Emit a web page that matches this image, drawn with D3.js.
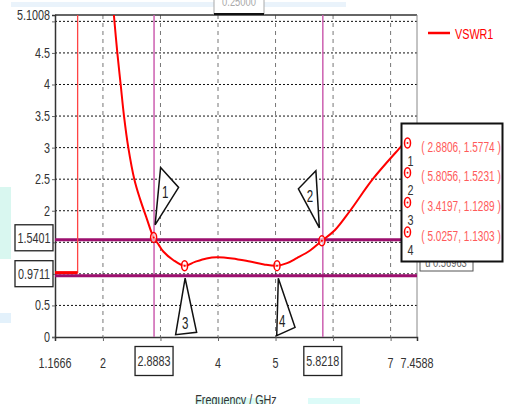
<!DOCTYPE html>
<html>
<head>
<meta charset="utf-8">
<script src="https://cdn.jsdelivr.net/npm/d3@7"></script>
<style>
  html, body { margin: 0; padding: 0; background: #fff; }
  svg { display: block; }
  text { font-family: "Liberation Sans", Arial, sans-serif; }
</style>
</head>
<body>
<div id="chart"></div>
<script>
// VSWR 曲线数据
const freqGHz = [2.19, 2.25, 2.308, 2.366, 2.441, 2.545, 2.64, 2.76, 2.8806, 2.97, 3.049, 3.22, 3.4197,
                 3.6, 3.8, 3.98, 4.25, 4.556, 4.8, 5.0257, 5.2, 5.37, 5.6, 5.8056, 6.034, 6.296, 6.689, 7.164, 7.4588];
const vswr = [5.1008, 4.5, 4.0, 3.5, 3.0, 2.5, 2.2, 1.88, 1.5774, 1.46, 1.354, 1.22, 1.1289,
              1.19, 1.245, 1.265, 1.245, 1.195, 1.15, 1.1303, 1.17, 1.25, 1.37, 1.5231, 1.695, 2.0, 2.5, 3.0, 3.3];

// 左侧的阶跃段
const stepFreq = [1.1666, 1.56, 1.56];
const stepVswr = [1.02, 1.02, 5.1008];

// 标记点
const markerNames = ["1", "2", "3", "4"];
const markerFreq = [2.8806, 5.8056, 3.4197, 5.0257];
const markerVswr = [1.5774, 1.5231, 1.1289, 1.1303];

// 刻度
const xTickLabels = ["1.1666", "2", "4", "5", "7", "7.4588"];
const xGridValues = [2, 3, 4, 5, 6, 7];
const yTickLabels = ["0", "0.5", "2", "2.5", "3", "3.5", "4", "4.5", "5.1008"];
const yGridValues = [0.5, 1, 1.5, 2, 2.5, 3, 3.5, 4, 4.5, 5];
const xCursor = [2.8883, 5.8218];
const yCursor = [1.5401, 0.9711];
const xDomain = [1.1666, 7.4588];
const yDomain = [0, 5.1008];

const width = 506, height = 404;
const red = "#ff0000";

let svg = d3.select("#chart").append("svg")
    .attr("width", width)
    .attr("height", height);

// 窄字体：用横向缩放模拟
let label = function (g, px, py, txt, size, fill, anchor) {
    return g.append("text")
        .attr("transform", "translate(" + px + "," + py + ") scale(0.72,1)")
        .attr("text-anchor", anchor || "middle")
        .attr("font-size", size)
        .attr("fill", fill)
        .text(txt);
};

// 截图边缘的浅色块
let tints = [
    [11, 2, 335, 5, "#eaf3fb"], [0, 187, 11, 72, "#d9f7f0"], [0, 313, 11, 10, "#e3f1fb"],
    [195, 398, 72, 6, "#dcfbf4"], [308, 398, 52, 6, "#dcfbf8"]
];
svg.selectAll(".tint").data(tints).enter().append("rect")
    .attr("x", d => d[0]).attr("y", d => d[1])
    .attr("width", d => d[2]).attr("height", d => d[3])
    .attr("fill", d => d[4]);

let x = d3.scaleLinear().domain(xDomain).range([55, 417]);
let y = d3.scaleLinear().domain(yDomain).range([337, 15]);

svg.append("clipPath").attr("id", "clip").append("rect")
    .attr("x", 55).attr("y", 15).attr("width", 362).attr("height", 322);

// 网格
svg.selectAll(".vgrid").data(xGridValues).enter().append("line")
    .attr("x1", d => x(d)).attr("x2", d => x(d))
    .attr("y1", y(yDomain[1])).attr("y2", y(0))
    .attr("stroke", "#777").attr("stroke-width", 1).attr("stroke-dasharray", "4,4");
svg.selectAll(".hgrid").data(yGridValues).enter().append("line")
    .attr("x1", x(xDomain[0])).attr("x2", x(xDomain[1]))
    .attr("y1", d => y(d)).attr("y2", d => y(d))
    .attr("stroke", "#111").attr("stroke-width", 1).attr("stroke-dasharray", "2,2");

// 边框与坐标轴
svg.append("line").attr("x1", 55).attr("x2", 417).attr("y1", 15).attr("y2", 15)
    .attr("stroke", "#333").attr("stroke-width", 1.5);
svg.append("line").attr("x1", 417).attr("x2", 417).attr("y1", 15).attr("y2", 337)
    .attr("stroke", "#888").attr("stroke-width", 1);

let xAxis = d3.axisBottom(x).tickValues(xGridValues).tickSize(4).tickFormat("");
svg.append("g").attr("transform", "translate(0," + y(0) + ")").call(xAxis)
    .call(g => g.select(".domain").attr("stroke", "#333").attr("stroke-width", 1.5))
    .call(g => g.selectAll(".tick line").attr("stroke", "#666"));
let yAxis = d3.axisLeft(y).tickValues([0].concat(yGridValues)).tickSize(3).tickFormat("");
svg.append("g").attr("transform", "translate(" + x(xDomain[0]) + ",0)").call(yAxis)
    .call(g => g.select(".domain").attr("stroke", "#333").attr("stroke-width", 1.5))
    .call(g => g.selectAll(".tick line").attr("stroke", "#666"));

// 刻度文字
xTickLabels.forEach(t => label(svg, x(+t), 368, t, 15, "#333"));
yTickLabels.forEach(t => label(svg, 50, y(+t) + 5, t, 15, "#333", "end"));
label(svg, 236, 405, "Frequency / GHz", 15, "#333");

// 光标线
svg.selectAll(".xcur").data(xCursor).enter().append("line")
    .attr("x1", d => x(d)).attr("x2", d => x(d)).attr("y1", 15).attr("y2", y(0))
    .attr("stroke", "#cc5fb0").attr("stroke-width", 1.5);
svg.selectAll(".ycur").data(yCursor).enter().append("line")
    .attr("x1", x(xDomain[0])).attr("x2", x(xDomain[1])).attr("y1", d => y(d)).attr("y2", d => y(d))
    .attr("stroke", "#9c0f6e").attr("stroke-width", 3);

// 曲线
let plot = svg.append("g").attr("clip-path", "url(#clip)");
plot.append("path")
    .datum(d3.zip(stepFreq, stepVswr))
    .attr("d", d3.line().x(d => x(d[0])).y(d => y(d[1])))
    .attr("fill", "none").attr("stroke", "#ff4444").attr("stroke-width", 1.3);
plot.append("line")
    .attr("x1", x(stepFreq[0])).attr("x2", x(stepFreq[1]))
    .attr("y1", y(stepVswr[0])).attr("y2", y(stepVswr[1]))
    .attr("stroke", red).attr("stroke-width", 3);
plot.append("path")
    .datum(d3.zip(freqGHz, vswr))
    .attr("d", d3.line().x(d => x(d[0])).y(d => y(d[1])).curve(d3.curveCatmullRom.alpha(0.5)))
    .attr("fill", "none").attr("stroke", red).attr("stroke-width", 2);

// 标记点的圆圈
let markers = d3.zip(markerNames, markerFreq, markerVswr);
let drawMarkerSymbol = function (g, cx, cy) {
    g.append("ellipse").attr("cx", cx).attr("cy", cy).attr("rx", 3).attr("ry", 5)
        .attr("fill", "#fff").attr("fill-opacity", 0.6).attr("stroke", red).attr("stroke-width", 1.5);
    g.append("circle").attr("cx", cx).attr("cy", cy).attr("r", 1).attr("fill", red);
};
markers.forEach(m => drawMarkerSymbol(svg, x(m[1]), y(m[2])));

// 标记旗帜（相对标记点的偏移）
let flagShapes = {
    "1": { pts: [[1.5, -12.5], [7, -70], [25, -50]], label: [11.5, -45] },
    "2": { pts: [[-2.5, -13], [-6, -70], [-23.5, -52]], label: [-12, -45] },
    "3": { pts: [[0.5, 12.5], [-9, 69], [12, 66.5]], label: [0.5, 57] },
    "4": { pts: [[1.3, 12.7], [-0.3, 70], [18, 61.7]], label: [5.3, 55] }
};
markers.forEach(function (m) {
    let mx = x(m[1]), my = y(m[2]);
    let f = flagShapes[m[0]];
    svg.append("polygon")
        .attr("points", f.pts.map(p => (mx + p[0]) + "," + (my + p[1])).join(" "))
        .attr("fill", "#fff").attr("stroke", "#111").attr("stroke-width", 1.5);
    label(svg, mx + f.label[0], my + f.label[1] + 6, m[0], 16, "#222");
});

// 带框的光标值
let boxLabel = function (cx, cy, w, h, txt) {
    svg.append("rect").attr("x", cx - w / 2).attr("y", cy - h / 2).attr("width", w).attr("height", h)
        .attr("fill", "#fff").attr("stroke", "#222").attr("stroke-width", 1.3);
    label(svg, cx, cy + 5, txt, 15, "#333");
};
xCursor.forEach(v => boxLabel(x(v), 361, 38, 29, v.toFixed(4)));
yCursor.forEach(v => boxLabel(34, y(v) - 2, 38, 26, v.toFixed(4)));

// 顶部被截断的框
svg.append("rect").attr("x", 214).attr("y", -8).attr("width", 50).attr("height", 22)
    .attr("fill", "#fff").attr("stroke", "#aaa").attr("stroke-width", 1);
svg.append("line").attr("x1", 214).attr("x2", 264).attr("y1", 14).attr("y2", 14)
    .attr("stroke", "#111").attr("stroke-width", 2);
label(svg, 239, 6, "0.25000", 13, "#aaa");

// 图例
svg.append("line").attr("x1", 428).attr("x2", 450).attr("y1", 33).attr("y2", 33)
    .attr("stroke", red).attr("stroke-width", 2.5);
label(svg, 455, 39, "VSWR1", 15, red, "start");

// 标记表后面的框
svg.append("rect").attr("x", 420).attr("y", 250).attr("width", 53).attr("height", 21)
    .attr("fill", "#fff").attr("stroke", "#555").attr("stroke-width", 1);
label(svg, 446, 267, "d 0.56963", 13, "#666");

// 标记表
svg.append("rect").attr("x", 401.5).attr("y", 123.5).attr("width", 101).attr("height", 138)
    .attr("fill", "#fff").attr("stroke", "#111").attr("stroke-width", 2);
markers.forEach(function (m, i) {
    let rowY = 146.5 + i * 29.7;
    drawMarkerSymbol(svg, 407.5, rowY - 3.5);
    label(svg, 410.5, rowY + 19, m[0], 15, "#333");
    label(svg, 461, rowY + 5, "( " + m[1].toFixed(4) + ", " + m[2].toFixed(4) + " )", 14, "#ff5a5a");
});
</script>
</body>
</html>
